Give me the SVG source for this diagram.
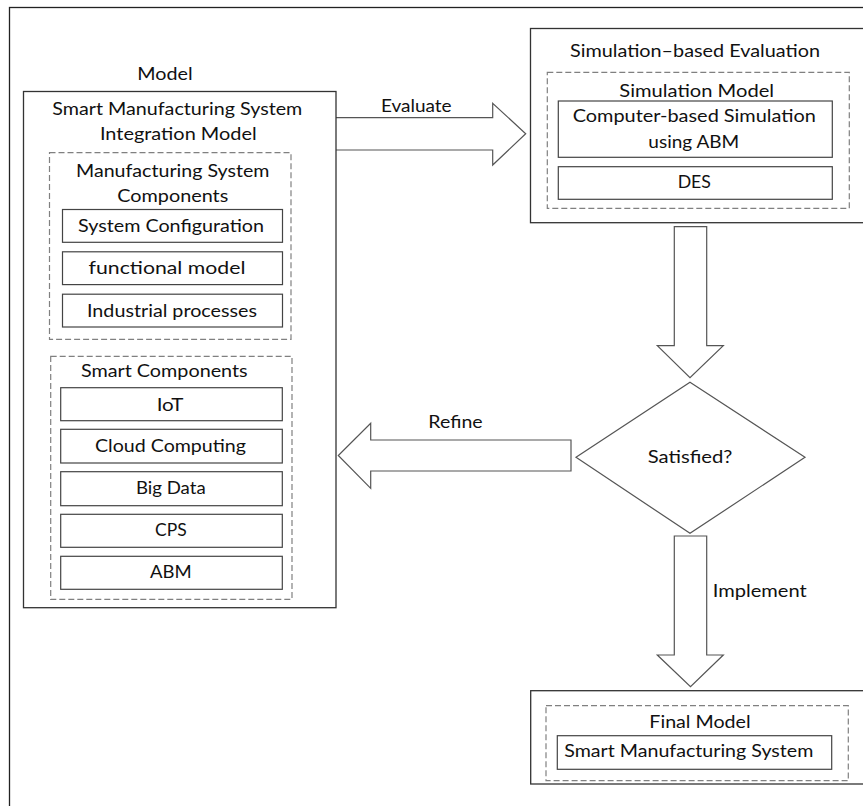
<svg xmlns="http://www.w3.org/2000/svg" width="863" height="806" viewBox="0 0 863 806">
  <style>
    .frame { fill: #ffffff; stroke: #222222; stroke-width: 1.3; }
    .box { fill: #ffffff; stroke: #333333; stroke-width: 1.3; }
    .group { fill: none; stroke: #808080; stroke-width: 1.2; stroke-dasharray: 6 3; }
    .item { fill: #ffffff; stroke: #444444; stroke-width: 1.2; }
    .arrow { fill: #ffffff; stroke: #555555; stroke-width: 1.2; stroke-linejoin: miter; }
    text { font-family: Lato, "Open Sans", "Liberation Sans", sans-serif; font-size: 18px; fill: #111111; }
    .c { text-anchor: middle; }
  </style>

  <!-- page frame -->
  <rect class="frame" x="9.5" y="7.5" width="900" height="900"/>

  <!-- connectors: block arrows and decision -->
  <g id="connectors">
    <polygon class="arrow" points="335,117.7 492.7,117.7 492.7,103.3 525.7,133.7 492.7,165 492.7,150 335,150"/>
    <line x1="335" y1="117.7" x2="335" y2="150" stroke="#222" stroke-width="2"/>
    <text class="c" x="416.3" y="111.7" textLength="70.7" lengthAdjust="spacingAndGlyphs">Evaluate</text>

    <polygon class="arrow" points="674.3,226.7 706.7,226.7 706.7,345.7 723.3,345.7 690,377.7 657.3,345.7 674.3,345.7"/>

    <polygon class="arrow" points="571,440 370.7,440 370.7,423.3 338.3,455.5 370.7,488.3 370.7,471 571,471"/>
    <text class="c" x="455.5" y="428.3" textLength="54.3" lengthAdjust="spacingAndGlyphs">Refine</text>

    <polygon class="arrow" points="674.3,536 706.7,536 706.7,655 723.3,655 690.5,686.7 657.3,655 674.3,655"/>
    <text x="712.7" y="596.7" textLength="94" lengthAdjust="spacingAndGlyphs">Implement</text>
  </g>

  <!-- decision -->
  <g id="decision">
    <polygon class="arrow" points="690,382.3 805,457.3 690,533.3 576,457.3"/>
    <text class="c" x="690" y="462.7" textLength="84.7" lengthAdjust="spacingAndGlyphs">Satisfied?</text>
  </g>

  <!-- model -->
  <g id="model">
    <text class="c" x="165" y="80" textLength="55.3" lengthAdjust="spacingAndGlyphs">Model</text>
    <rect class="box" x="23.5" y="91.5" width="312.5" height="516.2"/>
    <text class="c" x="177.3" y="115" textLength="250" lengthAdjust="spacingAndGlyphs">Smart Manufacturing System</text>
    <text class="c" x="178.3" y="140" textLength="156.7" lengthAdjust="spacingAndGlyphs">Integration Model</text>

    <g id="manufacturing-components">
      <rect class="group" x="49.5" y="152.7" width="241.5" height="186.6"/>
      <text class="c" x="172.7" y="176.7" textLength="193.3" lengthAdjust="spacingAndGlyphs">Manufacturing System</text>
      <text class="c" x="172.8" y="202.3" textLength="111" lengthAdjust="spacingAndGlyphs">Components</text>
      <rect class="item" x="62.5" y="209.5" width="220" height="32.8"/>
      <text class="c" x="171" y="232" textLength="186" lengthAdjust="spacingAndGlyphs">System Configuration</text>
      <rect class="item" x="62.5" y="251.8" width="220" height="32.8"/>
      <text class="c" x="167" y="274.3" textLength="157" lengthAdjust="spacingAndGlyphs">functional model</text>
      <rect class="item" x="62.5" y="294.2" width="220" height="32.8"/>
      <text class="c" x="172" y="317" textLength="170" lengthAdjust="spacingAndGlyphs">Industrial processes</text>
    </g>

    <g id="smart-components">
      <rect class="group" x="50.7" y="356.3" width="241.3" height="243"/>
      <text class="c" x="164.3" y="376.7" textLength="166.7" lengthAdjust="spacingAndGlyphs">Smart Components</text>
      <rect class="item" x="60.7" y="387.7" width="221.6" height="33"/>
      <text class="c" x="170" y="410.7" textLength="26.7" lengthAdjust="spacingAndGlyphs">IoT</text>
      <rect class="item" x="60.7" y="429.3" width="221.6" height="33.7"/>
      <text class="c" x="170.5" y="452.3" textLength="151" lengthAdjust="spacingAndGlyphs">Cloud Computing</text>
      <rect class="item" x="60.7" y="471.7" width="221.6" height="34"/>
      <text class="c" x="170.8" y="494" textLength="69.7" lengthAdjust="spacingAndGlyphs">Big Data</text>
      <rect class="item" x="60.7" y="514.3" width="221.6" height="33"/>
      <text class="c" x="170.8" y="536" textLength="31.7" lengthAdjust="spacingAndGlyphs">CPS</text>
      <rect class="item" x="60.7" y="556.3" width="221.6" height="33"/>
      <text class="c" x="170.8" y="578.3" textLength="41.7" lengthAdjust="spacingAndGlyphs">ABM</text>
    </g>
  </g>

  <!-- simulation-based evaluation -->
  <g id="evaluation">
    <rect class="box" x="530.5" y="28.5" width="400" height="194.2"/>
    <text class="c" x="695" y="57.3" textLength="250" lengthAdjust="spacingAndGlyphs">Simulation–based Evaluation</text>
    <g id="simulation-model">
      <rect class="group" x="547.3" y="72.3" width="302" height="136"/>
      <text class="c" x="696.7" y="97.3" textLength="154.7" lengthAdjust="spacingAndGlyphs">Simulation Model</text>
      <rect class="item" x="558.3" y="101" width="274" height="56.3"/>
      <text class="c" x="694.3" y="121.7" textLength="243.3" lengthAdjust="spacingAndGlyphs">Computer-based Simulation</text>
      <text class="c" x="693.8" y="148.3" textLength="91" lengthAdjust="spacingAndGlyphs">using ABM</text>
      <rect class="item" x="558.3" y="166.7" width="274" height="32.6"/>
      <text class="c" x="694.3" y="188.3" textLength="33.3" lengthAdjust="spacingAndGlyphs">DES</text>
    </g>
  </g>

  <!-- final model -->
  <g id="final">
    <rect class="box" x="530.7" y="690.7" width="400" height="93.3"/>
    <g id="final-model">
      <rect class="group" x="546" y="705.7" width="302.3" height="75"/>
      <text class="c" x="700" y="728.3" textLength="101.3" lengthAdjust="spacingAndGlyphs">Final Model</text>
      <rect class="item" x="557.3" y="735.7" width="274.4" height="33.6"/>
      <text class="c" x="688.8" y="757.3" textLength="249" lengthAdjust="spacingAndGlyphs">Smart Manufacturing System</text>
    </g>
  </g>
</svg>
